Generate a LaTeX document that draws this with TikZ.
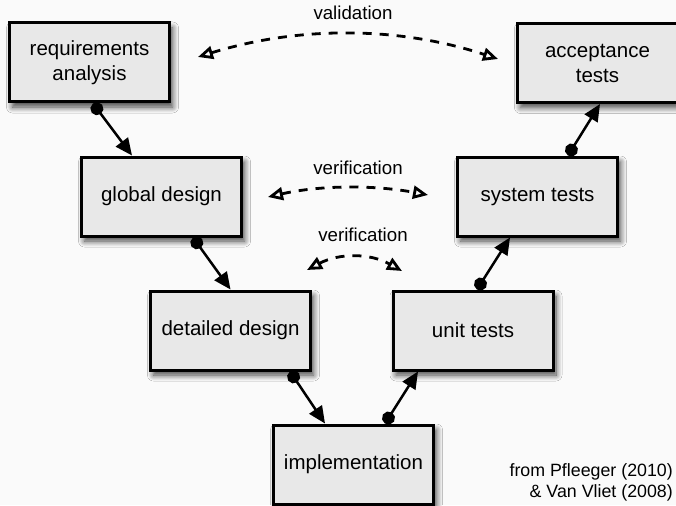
\documentclass[tikz,border=0pt]{standalone}
\usepackage{fontspec}
\setmainfont{Liberation Sans}
\usetikzlibrary{arrows.meta,shadows.blur}
\definecolor{bgcol}{RGB}{250,250,250}
\definecolor{boxfill}{RGB}{232,232,232}
\begin{document}
\begin{tikzpicture}[x=1pt,y=-1pt,
  stage/.style={draw=black, line width=3pt, fill=boxfill, minimum width=160pt, minimum height=79pt,
    align=center, font=\fontsize{20.5}{25}\selectfont, inner sep=0pt,
    blur shadow={shadow xshift=3pt,shadow yshift=-5pt,shadow blur radius=6pt,shadow blur steps=10,shadow opacity=75}},
  flow/.style={line width=2.5pt, {Circle[length=13pt]}-{Triangle[length=17pt,width=15pt]}},
  check/.style={line width=2.8pt, dash pattern=on 9pt off 8pt,
    {Triangle[open,length=15pt,width=13pt]}-{Triangle[open,length=15pt,width=13pt]}},
  lbl/.style={font=\fontsize{18.7}{22}\selectfont, inner sep=0pt},
]
\fill[bgcol] (0,0) rectangle (676,505);
\useasboundingbox (0,0) rectangle (676,505);

\node[stage] (ra) at (89.5,62.5) {requirements\\analysis};
\node[stage] (at) at (597.5,63) {acceptance\\tests};
\node[stage] (gd) at (161.5,196.5) {global design};
\node[stage] (st) at (537.5,196.5) {system tests};
\node[stage] (dd) at (230.5,330.5) {detailed design};
\node[stage] (ut) at (473,330.5) {unit tests};
\node[stage] (im) at (353.5,464.5) {implementation};

\draw[flow] ([xshift=3.5pt]ra.south) -- ([xshift=-29.5pt]gd.north);
\draw[flow] ([xshift=31.5pt]gd.south) -- ([xshift=0pt]dd.north);
\draw[flow] ([xshift=59.5pt]dd.south) -- ([xshift=-28.5pt]im.north);
\draw[flow] ([xshift=31.5pt]im.north) -- ([xshift=-55pt]ut.south);
\draw[flow] ([xshift=4pt]ut.north) -- ([xshift=-27.5pt]st.south);
\draw[flow] ([xshift=30.5pt]st.north) -- ([xshift=2.5pt]at.south);

\coordinate (va) at (198,57);
\coordinate (vb) at (498,59);
\coordinate (fa) at (268,197);
\coordinate (fb) at (428,195);
\coordinate (ga) at (307,270);
\coordinate (gb) at (402,271);
\draw[check] (va) .. controls (298,26) and (398,26) .. (vb);
\draw[check] (fa) .. controls (321,185) and (375,185) .. (fb);
\draw[check] (ga) .. controls (339,253) and (370,253) .. (gb);

\node[lbl] (lv) at (353,13) {validation};
\node[lbl] (lf1) at (358,168) {verification};
\node[lbl] (lf2) at (363,235) {verification};

\node[align=right, anchor=east, inner sep=0pt, font=\fontsize{17.8}{21}\selectfont] (src) at (673,482)
  {from Pfleeger (2010)\\\& Van Vliet (2008)};
\end{tikzpicture}
\end{document}
